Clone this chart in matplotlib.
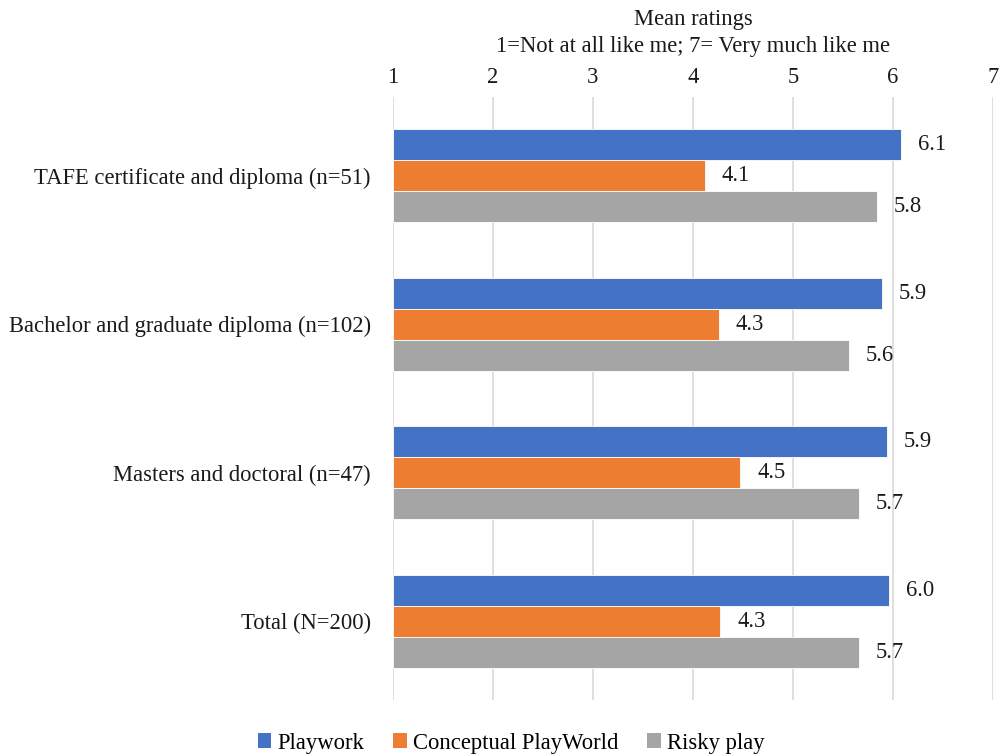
import matplotlib
matplotlib.use("Agg")
import matplotlib.pyplot as plt
import numpy as np
from matplotlib.patches import Patch

plt.rcParams['font.family'] = ['Liberation Serif', 'DejaVu Serif']

groups = ["TAFE certificate and diploma (n=51)",
          "Bachelor and graduate diploma (n=102)",
          "Masters and doctoral (n=47)",
          "Total (N=200)"]
series_names = ["Playwork", "Conceptual PlayWorld", "Risky play"]
playwork = [6.08, 5.89, 5.94, 5.96]
playworld = [4.12, 4.26, 4.47, 4.27]
risky = [5.84, 5.56, 5.66, 5.66]
colors = ["#4472C4", "#ED7D31", "#A5A5A5"]
xticks = [1, 2, 3, 4, 5, 6, 7]

FS = 16.3
TXT = "#1a1a1a"

fig = plt.figure(figsize=(10.01, 7.56), dpi=100)
ax = fig.add_axes([393 / 1001, 1 - 700 / 756, 600 / 1001, 603 / 756])

y = np.arange(len(groups))
h = 0.208
for k, (vals, c) in enumerate(zip([playwork, playworld, risky], colors)):
    pos = y + (k - 1) * h
    ax.barh(pos, np.array(vals) - 1, left=1, height=h, color=c,
            edgecolor="white", linewidth=0.6, zorder=3)
    for p, v in zip(pos, vals):
        ax.text(v + 0.17, p, f"{v:.1f}", va="center", ha="left",
                fontsize=FS, color=TXT)

ax.set_xlim(1, 7)
ax.set_ylim(len(groups) - 0.47, -0.53)
ax.set_yticks(y)
ax.set_yticklabels(groups, fontsize=FS, color=TXT)
ax.set_xticks(xticks)
ax.set_xticklabels([str(t) for t in xticks], fontsize=FS, color=TXT)
ax.xaxis.tick_top()
ax.xaxis.set_label_position("top")
ax.set_xlabel("Mean ratings\n1=Not at all like me; 7= Very much like me",
              fontsize=FS, color=TXT, labelpad=10.5, linespacing=1.35)
ax.tick_params(axis="both", length=0)
ax.tick_params(axis="x", pad=6.8)
ax.tick_params(axis="y", pad=16)
ax.grid(axis="x", color="#D9D9D9", linewidth=1.2, zorder=0)
for s in ax.spines.values():
    s.set_visible(False)

handles = [Patch(facecolor=c, edgecolor="none") for c in colors]
fig.legend(handles, series_names, loc="center", bbox_to_anchor=(511 / 1001, 1 - 743 / 756),
           ncol=3, frameon=False, fontsize=FS, handlelength=0.6, handleheight=0.6,
           handletextpad=0.25, columnspacing=1.3)

fig.savefig("out.png", dpi=100)
